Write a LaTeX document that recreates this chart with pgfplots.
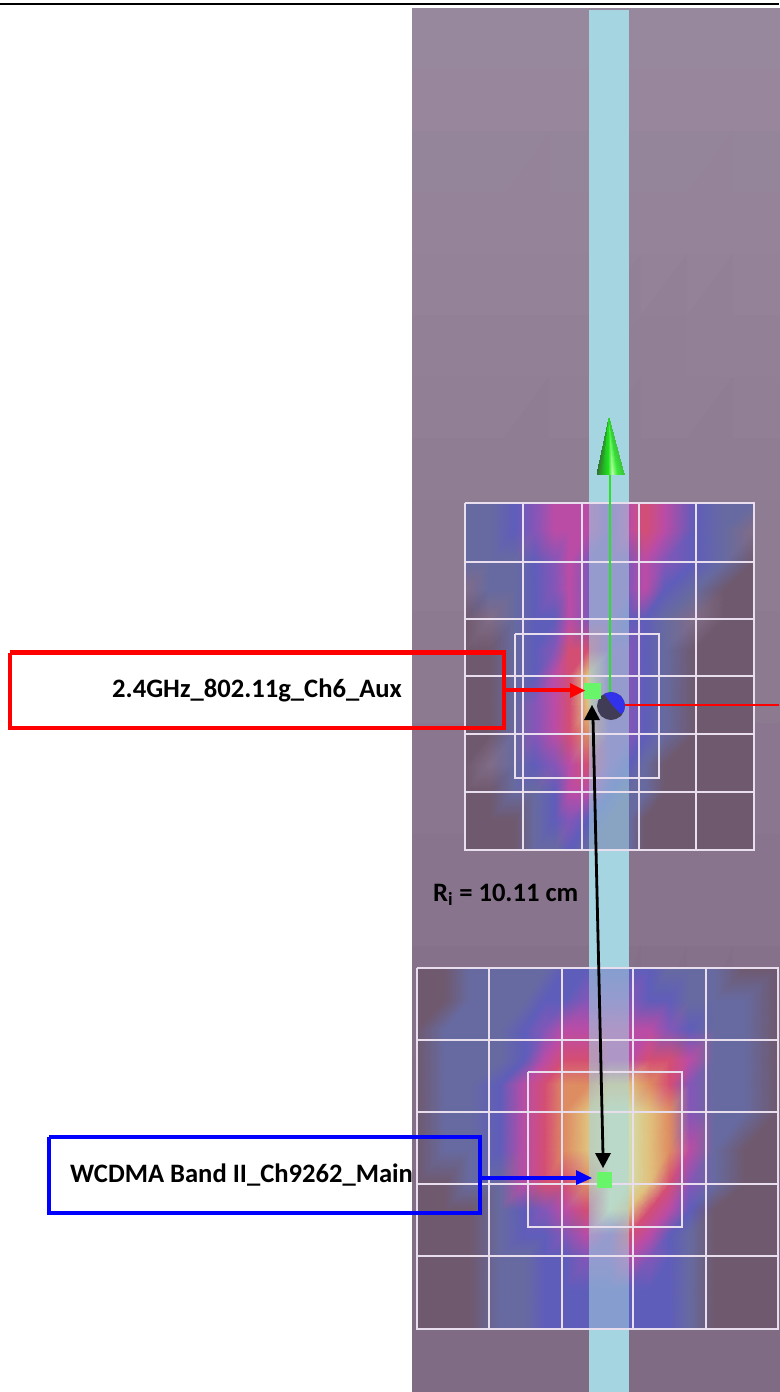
\documentclass[border=0pt]{standalone}
\usepackage{fontspec}
\setmainfont{Carlito}
\usepackage{pgfplots}
\pgfplotsset{compat=1.18}
\definecolor{D}{RGB}{111,89,110}
\definecolor{G}{RGB}{128,108,135}
\definecolor{S}{RGB}{103,106,160}
\definecolor{B}{RGB}{95,93,186}
\definecolor{V}{RGB}{132,86,184}
\definecolor{M}{RGB}{186,76,166}
\definecolor{R}{RGB}{212,78,116}
\definecolor{O}{RGB}{222,140,98}
\definecolor{Y}{RGB}{224,192,124}
\definecolor{W}{RGB}{212,222,170}
\definecolor{bgA}{RGB}{152,136,157}
\definecolor{bgB}{RGB}{142,124,147}
\definecolor{bgC}{RGB}{125,105,130}
\definecolor{strip}{RGB}{165,213,225}
\definecolor{gridc}{RGB}{232,222,238}
\definecolor{g1}{RGB}{50,105,50}
\definecolor{g2}{RGB}{40,170,40}
\definecolor{g3}{RGB}{30,225,30}
\definecolor{g4}{RGB}{190,255,170}
\definecolor{g5}{RGB}{60,235,60}
\definecolor{g6}{RGB}{60,200,60}
\definecolor{sqg}{RGB}{105,245,105}
\definecolor{balld}{RGB}{65,60,85}
\definecolor{ballb}{RGB}{50,50,235}
\definecolor{axg}{RGB}{40,225,40}
\begin{document}
\begin{tikzpicture}
\useasboundingbox (0,0) rectangle (779pt,1392pt);
\begin{axis}[
  at={(0,0)}, anchor=south west,
  scale only axis, width=779pt, height=1392pt,
  xmin=0, xmax=779, ymin=0, ymax=1392, y dir=reverse,
  hide axis, clip=true,
]
% background
\addplot[surf, shader=interp, mesh/color input=explicit, mesh/cols=2, mesh/rows=3] coordinates {
(412,8)[color=bgA] (779,8)[color=bgA]
(412,500)[color=bgB] (779,500)[color=bgB]
(412,1392)[color=bgC] (779,1392)[color=bgC]
};
% upper heat map
\addplot[surf, shader=interp, mesh/color input=explicit, mesh/cols=14, mesh/rows=13] coordinates {
(465,503)[color=S] (490,503)[color=S] (515,503)[color=B] (535,503)[color=V] (555,503)[color=M] (570,503)[color=M] (588,503)[color=M] (610,503)[color=V] (629,503)[color=M] (645,503)[color=R] (665,503)[color=M] (695,503)[color=B] (725,503)[color=S] (754,503)[color=S]
(465,530)[color=S] (490,530)[color=S] (515,530)[color=B] (535,530)[color=V] (555,530)[color=M] (570,530)[color=M] (588,530)[color=M] (610,530)[color=V] (629,530)[color=M] (645,530)[color=R] (665,530)[color=M] (695,530)[color=B] (725,530)[color=S] (754,530)[color=G]
(465,562)[color=S] (490,562)[color=S] (515,562)[color=S] (535,562)[color=B] (555,562)[color=V] (570,562)[color=M] (588,562)[color=V] (610,562)[color=V] (629,562)[color=V] (645,562)[color=M] (665,562)[color=V] (695,562)[color=B] (725,562)[color=S] (754,562)[color=D]
(465,590)[color=G] (490,590)[color=S] (515,590)[color=S] (535,590)[color=B] (555,590)[color=V] (570,590)[color=M] (588,590)[color=V] (610,590)[color=V] (629,590)[color=V] (645,590)[color=M] (665,590)[color=B] (695,590)[color=S] (725,590)[color=D] (754,590)[color=D]
(465,619)[color=D] (490,619)[color=G] (515,619)[color=S] (535,619)[color=B] (555,619)[color=B] (570,619)[color=M] (588,619)[color=V] (610,619)[color=V] (629,619)[color=B] (645,619)[color=B] (665,619)[color=S] (695,619)[color=G] (725,619)[color=D] (754,619)[color=D]
(465,650)[color=D] (490,650)[color=D] (515,650)[color=S] (535,650)[color=B] (555,650)[color=V] (570,650)[color=R] (588,650)[color=R] (610,650)[color=V] (629,650)[color=V] (645,650)[color=B] (665,650)[color=S] (695,650)[color=D] (725,650)[color=D] (754,650)[color=D]
(465,676)[color=D] (490,676)[color=D] (515,676)[color=S] (535,676)[color=B] (555,676)[color=M] (570,676)[color=R] (588,676)[color=Y] (610,676)[color=V] (629,676)[color=V] (645,676)[color=B] (665,676)[color=S] (695,676)[color=D] (725,676)[color=D] (754,676)[color=D]
(465,705)[color=D] (490,705)[color=D] (515,705)[color=S] (535,705)[color=V] (555,705)[color=M] (570,705)[color=R] (588,705)[color=Y] (610,705)[color=V] (629,705)[color=V] (645,705)[color=B] (665,705)[color=S] (695,705)[color=D] (725,705)[color=D] (754,705)[color=D]
(465,734)[color=D] (490,734)[color=D] (515,734)[color=S] (535,734)[color=V] (555,734)[color=M] (570,734)[color=R] (588,734)[color=O] (610,734)[color=V] (629,734)[color=V] (645,734)[color=B] (665,734)[color=S] (695,734)[color=D] (725,734)[color=D] (754,734)[color=D]
(465,765)[color=D] (490,765)[color=G] (515,765)[color=S] (535,765)[color=B] (555,765)[color=V] (570,765)[color=M] (588,765)[color=R] (610,765)[color=V] (629,765)[color=B] (645,765)[color=S] (665,765)[color=D] (695,765)[color=D] (725,765)[color=D] (754,765)[color=D]
(465,792)[color=D] (490,792)[color=D] (515,792)[color=S] (535,792)[color=S] (555,792)[color=B] (570,792)[color=M] (588,792)[color=M] (610,792)[color=B] (629,792)[color=S] (645,792)[color=S] (665,792)[color=D] (695,792)[color=D] (725,792)[color=D] (754,792)[color=D]
(465,820)[color=D] (490,820)[color=D] (515,820)[color=D] (535,820)[color=S] (555,820)[color=B] (570,820)[color=V] (588,820)[color=B] (610,820)[color=S] (629,820)[color=S] (645,820)[color=D] (665,820)[color=D] (695,820)[color=D] (725,820)[color=D] (754,820)[color=D]
(465,850)[color=D] (490,850)[color=D] (515,850)[color=D] (535,850)[color=S] (555,850)[color=S] (570,850)[color=B] (588,850)[color=S] (610,850)[color=S] (629,850)[color=S] (645,850)[color=D] (665,850)[color=D] (695,850)[color=D] (725,850)[color=D] (754,850)[color=D]
};
% lower heat map
\addplot[surf, shader=interp, mesh/color input=explicit, mesh/cols=16, mesh/rows=13] coordinates {
(417,968)[color=D] (445,968)[color=D] (470,968)[color=S] (500,968)[color=S] (525,968)[color=S] (545,968)[color=S] (565,968)[color=B] (588,968)[color=B] (610,968)[color=B] (629,968)[color=B] (650,968)[color=B] (670,968)[color=S] (690,968)[color=S] (715,968)[color=S] (745,968)[color=D] (778,968)[color=D]
(417,1000)[color=D] (445,1000)[color=D] (470,1000)[color=S] (500,1000)[color=S] (525,1000)[color=S] (545,1000)[color=B] (565,1000)[color=B] (588,1000)[color=V] (610,1000)[color=V] (629,1000)[color=V] (650,1000)[color=B] (670,1000)[color=B] (690,1000)[color=S] (715,1000)[color=S] (745,1000)[color=S] (778,1000)[color=D]
(417,1030)[color=D] (445,1030)[color=S] (470,1030)[color=S] (500,1030)[color=S] (525,1030)[color=B] (545,1030)[color=V] (565,1030)[color=M] (588,1030)[color=M] (610,1030)[color=M] (629,1030)[color=M] (650,1030)[color=M] (670,1030)[color=V] (690,1030)[color=B] (715,1030)[color=S] (745,1030)[color=S] (778,1030)[color=D]
(417,1060)[color=D] (445,1060)[color=S] (470,1060)[color=S] (500,1060)[color=S] (525,1060)[color=B] (545,1060)[color=M] (565,1060)[color=R] (588,1060)[color=R] (610,1060)[color=M] (629,1060)[color=M] (650,1060)[color=R] (670,1060)[color=R] (690,1060)[color=M] (715,1060)[color=S] (745,1060)[color=S] (778,1060)[color=D]
(417,1085)[color=D] (445,1085)[color=S] (470,1085)[color=S] (500,1085)[color=B] (525,1085)[color=M] (545,1085)[color=R] (565,1085)[color=O] (588,1085)[color=O] (610,1085)[color=Y] (629,1085)[color=Y] (650,1085)[color=O] (670,1085)[color=R] (690,1085)[color=V] (715,1085)[color=S] (745,1085)[color=S] (778,1085)[color=D]
(417,1112)[color=D] (445,1112)[color=S] (470,1112)[color=S] (500,1112)[color=B] (525,1112)[color=M] (545,1112)[color=R] (565,1112)[color=O] (588,1112)[color=Y] (610,1112)[color=W] (629,1112)[color=W] (650,1112)[color=Y] (670,1112)[color=O] (690,1112)[color=V] (715,1112)[color=S] (745,1112)[color=S] (778,1112)[color=D]
(417,1150)[color=D] (445,1150)[color=S] (470,1150)[color=S] (500,1150)[color=B] (525,1150)[color=M] (545,1150)[color=R] (565,1150)[color=O] (588,1150)[color=Y] (610,1150)[color=W] (629,1150)[color=W] (650,1150)[color=Y] (670,1150)[color=O] (690,1150)[color=M] (715,1150)[color=S] (745,1150)[color=D] (778,1150)[color=D]
(417,1184)[color=D] (445,1184)[color=D] (470,1184)[color=S] (500,1184)[color=S] (525,1184)[color=M] (545,1184)[color=R] (565,1184)[color=R] (588,1184)[color=O] (610,1184)[color=W] (629,1184)[color=W] (650,1184)[color=Y] (670,1184)[color=R] (690,1184)[color=V] (715,1184)[color=S] (745,1184)[color=D] (778,1184)[color=D]
(417,1210)[color=D] (445,1210)[color=D] (470,1210)[color=D] (500,1210)[color=S] (525,1210)[color=B] (545,1210)[color=V] (565,1210)[color=M] (588,1210)[color=R] (610,1210)[color=W] (629,1210)[color=Y] (650,1210)[color=R] (670,1210)[color=M] (690,1210)[color=B] (715,1210)[color=D] (745,1210)[color=D] (778,1210)[color=D]
(417,1235)[color=D] (445,1235)[color=D] (470,1235)[color=D] (500,1235)[color=S] (525,1235)[color=B] (545,1235)[color=B] (565,1235)[color=V] (588,1235)[color=M] (610,1235)[color=V] (629,1235)[color=R] (650,1235)[color=M] (670,1235)[color=B] (690,1235)[color=S] (715,1235)[color=D] (745,1235)[color=D] (778,1235)[color=D]
(417,1256)[color=D] (445,1256)[color=D] (470,1256)[color=D] (500,1256)[color=S] (525,1256)[color=S] (545,1256)[color=B] (565,1256)[color=B] (588,1256)[color=V] (610,1256)[color=V] (629,1256)[color=M] (650,1256)[color=V] (670,1256)[color=B] (690,1256)[color=S] (715,1256)[color=D] (745,1256)[color=D] (778,1256)[color=D]
(417,1290)[color=D] (445,1290)[color=D] (470,1290)[color=D] (500,1290)[color=S] (525,1290)[color=S] (545,1290)[color=B] (565,1290)[color=B] (588,1290)[color=B] (610,1290)[color=B] (629,1290)[color=B] (650,1290)[color=B] (670,1290)[color=B] (690,1290)[color=S] (715,1290)[color=D] (745,1290)[color=D] (778,1290)[color=D]
(417,1329)[color=D] (445,1329)[color=D] (470,1329)[color=D] (500,1329)[color=S] (525,1329)[color=S] (545,1329)[color=B] (565,1329)[color=B] (588,1329)[color=B] (610,1329)[color=B] (629,1329)[color=B] (650,1329)[color=B] (670,1329)[color=B] (690,1329)[color=S] (715,1329)[color=D] (745,1329)[color=D] (778,1329)[color=D]
};
% cylinder strip
\addplot[draw=none, fill=strip] coordinates {(589,10) (629,10) (629,503) (589,503)} -- cycle;
\addplot[draw=none, fill=strip, fill opacity=0.55] coordinates {(589,503) (629,503) (629,850) (589,850)} -- cycle;
\addplot[draw=none, fill=strip] coordinates {(589,850) (629,850) (629,968) (589,968)} -- cycle;
\addplot[draw=none, fill=strip, fill opacity=0.55] coordinates {(589,968) (629,968) (629,1329) (589,1329)} -- cycle;
\addplot[draw=none, fill=strip] coordinates {(589,1329) (629,1329) (629,1392) (589,1392)} -- cycle;
% top rule
\addplot[black, line width=2.4pt] coordinates {(0,4) (779,4)};
% upper grid
\addplot[gridc, line width=1.5pt] coordinates {(465,503) (754,503) (754,850) (465,850) (465,503)};
\addplot[gridc, line width=1.5pt] coordinates {(515,634) (659,634) (659,778) (515,778) (515,634)};
\pgfplotsinvokeforeach{523,582,639,696}{\addplot[gridc, line width=1.1pt] coordinates {(#1,503) (#1,850)};}
\pgfplotsinvokeforeach{562,619,676,734,792}{\addplot[gridc, line width=1.1pt] coordinates {(465,#1) (754,#1)};}
% lower grid
\addplot[gridc, line width=1.5pt] coordinates {(417,968) (778,968) (778,1329) (417,1329) (417,968)};
\addplot[gridc, line width=1.5pt] coordinates {(528,1072) (682,1072) (682,1227) (528,1227) (528,1072)};
\pgfplotsinvokeforeach{489,562,633,706}{\addplot[gridc, line width=1.1pt] coordinates {(#1,968) (#1,1329)};}
\pgfplotsinvokeforeach{1040,1112,1184,1256}{\addplot[gridc, line width=1.1pt] coordinates {(417,#1) (778,#1)};}
% green axis and cone
\addplot[axg, line width=2.2pt] coordinates {(610,470) (610,695)};
\addplot[surf, shader=interp, mesh/color input=explicit, mesh/cols=6, mesh/rows=2] coordinates {
(609,418)[color=g1] (609,418)[color=g2] (609,418)[color=g3] (609,418)[color=g3] (609,418)[color=g5] (609,418)[color=g6]
(597,474)[color=g1] (603,474)[color=g2] (609,474)[color=g3] (613,474)[color=g4] (618,474)[color=g5] (624,474)[color=g6]
};
% red axis
\addplot[red, line width=2.2pt] coordinates {(624,705) (779,705)};
% ball
\addplot[draw=none, fill=balld] coordinates {(625,706) (624,701) (621,696) (616,693) (611,692) (606,693) (601,696) (598,701) (597,706) (598,711) (601,716) (606,719) (611,720) (616,719) (621,716) (624,711)} -- cycle;
\addplot[draw=none, fill=ballb] coordinates {(604,694) (607,693) (611,692) (616,693) (621,696) (624,701) (625,706) (624,711) (621,714) (613,706)} -- cycle;
% green squares
\addplot[draw=none, fill=sqg] coordinates {(584,683) (601,683) (601,699) (584,699)} -- cycle;
\addplot[draw=none, fill=sqg] coordinates {(597,1172) (612,1172) (612,1188) (597,1188)} -- cycle;
% red box and arrow
\addplot[red, line width=4.8pt] coordinates {(10,652.5) (504,652.5) (504,728) (10,728) (10,652.5)};
\addplot[red, line width=4pt] coordinates {(504,690) (572,690)};
\addplot[draw=none, fill=red] coordinates {(570,683) (585,690.5) (570,698)} -- cycle;
% blue box and arrow
\addplot[blue, line width=4.8pt] coordinates {(49,1137) (480,1137) (480,1213) (49,1213) (49,1137)};
\addplot[blue, line width=4pt] coordinates {(480,1178) (580,1178)};
\addplot[draw=none, fill=blue] coordinates {(576,1170) (592,1178) (576,1185)} -- cycle;
% black double arrow
\addplot[black, line width=2.8pt] coordinates {(593,718) (603,1155)};
\addplot[draw=none, fill=black] coordinates {(592,705) (600,720) (584,720)} -- cycle;
\addplot[draw=none, fill=black] coordinates {(603,1168) (595,1153) (611,1153)} -- cycle;
% labels
\node[anchor=base west, inner sep=0pt, font=\fontsize{26.6}{30}\selectfont\bfseries] at (axis cs:112,697) {2.4GHz\_802.11g\_Ch6\_Aux};
\node[anchor=base west, inner sep=0pt, font=\fontsize{26.6}{30}\selectfont\bfseries] at (axis cs:70,1182) {WCDMA Band II\_Ch9262\_Main};
\node[anchor=base west, inner sep=0pt, font=\fontsize{26.6}{30}\selectfont\bfseries] at (axis cs:433,901) {R\textsubscript{i} = 10.11 cm};
\end{axis}
\end{tikzpicture}
\end{document}
